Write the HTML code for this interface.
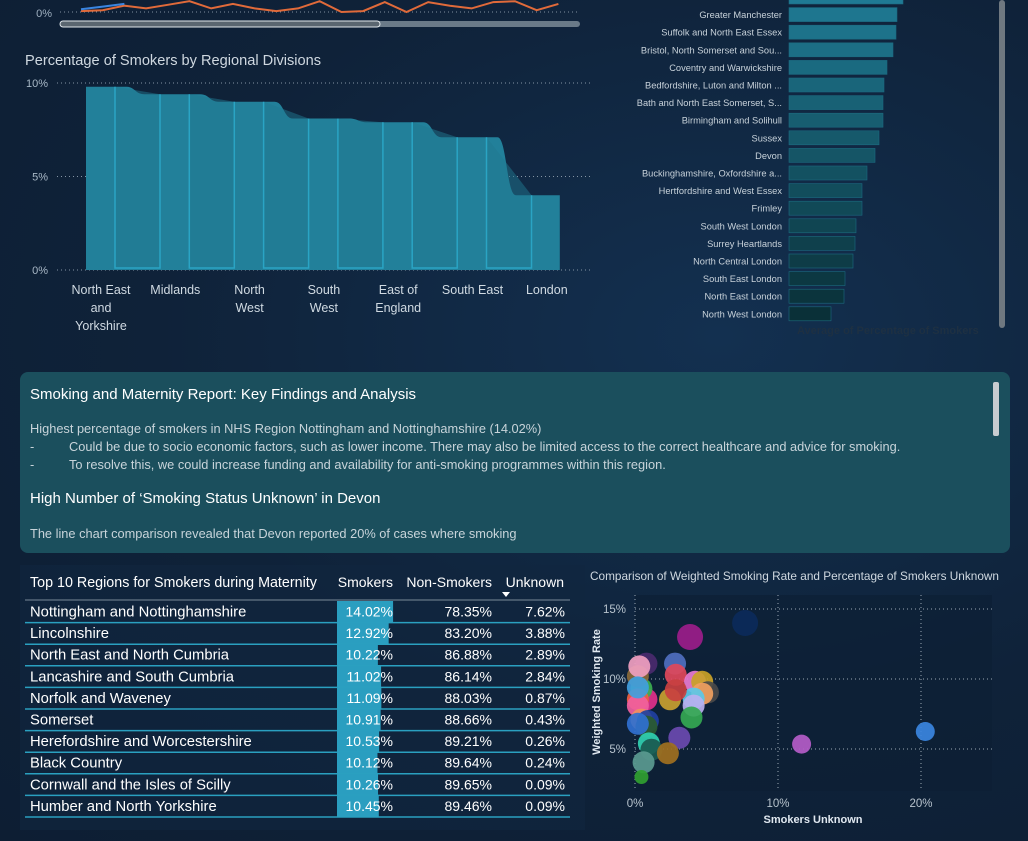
<!DOCTYPE html>
<html><head><meta charset="utf-8"><style>
body{margin:0;width:1028px;height:841px;overflow:hidden;background:radial-gradient(ellipse at 70% 40%,#133050 0%,#0f2239 55%,#0d1e33 100%);font-family:"Liberation Sans",sans-serif;color:#d8e2ea;position:relative}
.abs{position:absolute}
svg text{font-family:"Liberation Sans",sans-serif}
</style></head><body>
<svg class="abs" style="left:0;top:0" width="1028" height="841">
 <g id="topline">
  <text x="52" y="17" font-size="11" fill="#9fb0c0" text-anchor="end">0%</text>
  <line x1="60" y1="12" x2="580" y2="12" stroke="#8090a0" stroke-dasharray="1,3"/>
  <rect x="60" y="21" width="520" height="6" rx="3" fill="#6a7a88"/>
  <rect x="60" y="21" width="320" height="6" rx="3" fill="#5a6670" stroke="#e0e6ea" stroke-width="1"/>
 </g>
 <text x="25" y="65" font-size="14.6" fill="#cfd8e0">Percentage of Smokers by Regional Divisions</text>
 <g id="area"></g>
 <g id="hbar"></g>
 <rect x="999" y="0" width="6" height="328" rx="3" fill="#6f7880"/>
 <text x="797" y="334" font-size="11" font-weight="bold" fill="#1e3042">Average of Percentage of Smokers</text>
 <rect x="20" y="372" width="990" height="181" rx="8" fill="#1b4f5d"/>
 <rect x="993" y="382" width="6" height="54" rx="2" fill="#c8ccd0"/>
 <text x="30" y="399" font-size="15" fill="#ffffff">Smoking and Maternity Report: Key Findings and Analysis</text>
 <text x="30" y="433" font-size="12.8" fill="#c8d4da">Highest percentage of smokers in NHS Region Nottingham and Nottinghamshire (14.02%)</text>
 <text x="30" y="451" font-size="12.8" fill="#c8d4da">-</text>
 <text x="69" y="451" font-size="12.8" fill="#c8d4da">Could be due to socio economic factors, such as lower income. There may also be limited access to the correct healthcare and advice for smoking.</text>
 <text x="30" y="469" font-size="12.8" fill="#c8d4da">-</text>
 <text x="69" y="469" font-size="12.8" fill="#c8d4da">To resolve this, we could increase funding and availability for anti-smoking programmes within this region.</text>
 <text x="30" y="503" font-size="15" fill="#ffffff">High Number of ‘Smoking Status Unknown’ in Devon</text>
 <text x="30" y="538" font-size="12.8" fill="#c8d4da">The line chart comparison revealed that Devon reported 20% of cases where smoking</text>
 <rect x="20" y="565" width="565" height="265" fill="#112740" opacity="0.6"/>
 <g id="table"></g>
 <text x="590" y="580" font-size="11.8" fill="#cfd8e0">Comparison of Weighted Smoking Rate and Percentage of Smokers Unknown</text>
 <rect x="635" y="595" width="357" height="196" fill="#0d1f35" opacity="0.7"/>
 <g id="scatter"></g>
 <text x="600" y="692" font-size="11" font-weight="bold" fill="#e0e8f0" text-anchor="middle" transform="rotate(-90 600 692)">Weighted Smoking Rate</text>
 <text x="813" y="823" font-size="11" font-weight="bold" fill="#e0e8f0" text-anchor="middle">Smokers Unknown</text>
</svg>
<script>
const NS='http://www.w3.org/2000/svg';
function mk(p,t,a){const e=document.createElementNS(NS,t);for(const k in a)e.setAttribute(k,a[k]);p.appendChild(e);return e;}

// ---- top remnant line chart ----
const topBlueValues=[0.3,0.6,0.9];
const topOrangeValues=[0.1,0.2,0.7,0.4,0.8,1.2,0.4,0.9,0.4,0.1,0.4,1.2,0,0.1,1.1,0,1.1,0.7,0.4,1.1,1.2,0.2,0.9];
(function(){
 const g=document.getElementById('topline');
 const tx=i=>81+i*21.7, ty=v=>12-v*9;
 const o=mk(g,'polyline',{points:topOrangeValues.map((v,i)=>tx(i)+','+ty(v)).join(' '),fill:'none',stroke:'#e06a3a','stroke-width':2});
 
 
 const b=mk(g,'polyline',{points:topBlueValues.map((v,i)=>tx(i)+','+ty(v)).join(' '),fill:'none',stroke:'#3a85e0','stroke-width':2});
 
 
})();

// ---- area chart data ----
const areaCategories=[['North East','and','Yorkshire'],['Midlands'],['North','West'],['South','West'],['East of','England'],['South East'],['London']];
const areaValues=[9.8,9.4,9.0,8.1,7.9,7.1,4.0];
const areaTicks=[0,5,10];
const aY=v=>270-v*18.7;
const aX=i=>101+74.3*i;
(function(){
 const g=document.getElementById('area');
 areaTicks.forEach(t=>{
  const l=mk(g,'line',{x1:57,x2:591,y1:aY(t),y2:aY(t),stroke:'#8494a4','stroke-dasharray':'1,3'});
  
  
  const tx=mk(g,'text',{x:48,y:aY(t)+4,'font-size':11,fill:'#a8b8c6','text-anchor':'end'});tx.textContent=t+'%';
  
  
 });
 const n=areaValues.length;
 let d='M'+(aX(0)-15)+','+aY(0)+' L'+(aX(0)-15)+','+aY(areaValues[0]);
 for(let i=0;i<n;i++){
  if(i<n-1){
   const x0=aX(i)+25;d+=' L'+x0+','+aY(areaValues[i]);
   const x1=aX(i+1)-31;const m=(x0+x1)/2;
   d+=' C'+m+','+aY(areaValues[i])+' '+m+','+aY(areaValues[i+1])+' '+x1+','+aY(areaValues[i+1]);
  }
 }
 const last=aX(n-1)+13;
 d+=' L'+last+','+aY(areaValues[n-1])+' L'+last+','+aY(0)+' Z';
 const p=mk(g,'path',{d:d,fill:'#22809a'});
 
 
 for(let i=0;i<n-1;i++){
  const xa=aX(i)+14,xb=aX(i)+59;
  const r=mk(g,'path',{d:'M'+xa+','+aY(areaValues[i])+' L'+xa+','+(aY(0)-2)+' L'+xb+','+(aY(0)-2)+' L'+xb+','+aY(areaValues[i+1]),fill:'#1f7890','fill-opacity':0.5,stroke:'#2aa4c4','stroke-width':1.5});
  
  
 }
 areaCategories.forEach((lines,i)=>{
  lines.forEach((s,j)=>{const t=mk(g,'text',{x:aX(i),y:294+j*18,'font-size':12.5,fill:'#d0dae2','text-anchor':'middle'});t.textContent=s;
   
   });
 });
})();

// ---- horizontal bar chart ----
const barRegions=['','Greater Manchester','Suffolk and North East Essex','Bristol, North Somerset and Sou...','Coventry and Warwickshire','Bedfordshire, Luton and Milton ...','Bath and North East Somerset, S...','Birmingham and Solihull','Sussex','Devon','Buckinghamshire, Oxfordshire a...','Hertfordshire and West Essex','Frimley','South West London','Surrey Heartlands','North Central London','South East London','North East London','North West London'];
const barValues=[11.4,10.8,10.7,10.4,9.8,9.5,9.4,9.4,9.0,8.6,7.8,7.3,7.3,6.7,6.6,6.4,5.6,5.5,4.2];
(function(){
 const g=document.getElementById('hbar');
 const colA=[31,122,148],colB=[10,48,56];
 barRegions.forEach((n,i)=>{
  const y=-3+17.6*i;const f=i/(barRegions.length-1);
  const c='rgb('+colA.map((a,k)=>Math.round(a+(colB[k]-a)*f)).join(',')+')';
  const r=mk(g,'rect',{x:789,y:y-7,width:barValues[i]*10,height:14,fill:c,stroke:'#1c6a80','stroke-width':0.6});
  
  
  if(n){const t=mk(g,'text',{x:782,y:y+3.5,'font-size':9.3,fill:'#c8d2da','text-anchor':'end'});t.textContent=n;
   
   }
 });
})();

// ---- table ----
const tblRegions=['Nottingham and Nottinghamshire','Lincolnshire','North East and North Cumbria','Lancashire and South Cumbria','Norfolk and Waveney','Somerset','Herefordshire and Worcestershire','Black Country','Cornwall and the Isles of Scilly','Humber and North Yorkshire'];
const tblSmokers=[14.02,12.92,10.22,11.02,11.09,10.91,10.53,10.12,10.26,10.45];
const tblNon=[78.35,83.20,86.88,86.14,88.03,88.66,89.21,89.64,89.65,89.46];
const tblUnknown=[7.62,3.88,2.89,2.84,0.87,0.43,0.26,0.24,0.09,0.09];
(function(){
 const g=document.getElementById('table');
 const hd=[['Top 10 Regions for Smokers during Maternity',30,'start',14.3],['Smokers',393,'end',14],['Non-Smokers',492,'end',14],['Unknown',564,'end',14]];
 hd.forEach(h=>{const t=mk(g,'text',{x:h[1],y:587,'font-size':h[3],fill:'#ffffff','text-anchor':h[2]});t.textContent=h[0];
  
  });
 const tri=mk(g,'path',{d:'M502,592 L510,592 L506,597 Z',fill:'#fff'});
 
 
 mk(g,'line',{x1:25,x2:570,y1:600,y2:600,stroke:'#7a8a98'});
 tblRegions.forEach((n,i)=>{
  const y=601+21.6*i;
  const b=mk(g,'rect',{x:337,y:y,width:tblSmokers[i]*4,height:21.6,fill:'#2a9ec0'});
  
  
  const vals=[[n,30,'start',14.8],[tblSmokers[i].toFixed(2)+'%',393,'end',14],[tblNon[i].toFixed(2)+'%',492,'end',14],[tblUnknown[i].toFixed(2)+'%',565,'end',14]];
  vals.forEach(v=>{const t=mk(g,'text',{x:v[1],y:y+15.5,'font-size':v[3],fill:'#ffffff','text-anchor':v[2]});t.textContent=v[0];
   
   });
  const l=mk(g,'line',{x1:25,x2:570,y1:y+21.6,y2:y+21.6,stroke:'#2aa0c0','stroke-width':1.5});
  
  
 });
})();

// ---- scatter ----
const scX=[7.7,3.85,20.3,11.65,2.8,2.85,0.8,4.2,4.7,5.1,4.7,4.1,4.1,3.95,2.45,2.85,0.8,0.45,0.2,0.3,0.2,0.2,0.45,0.9,0.8,0.2,3.1,0.97,1.15,2.3,0.6,0.45,0.2];
const scY=[14.0,13.0,6.25,5.35,11.1,10.3,11.1,9.8,9.8,9.05,8.95,8.6,8.1,7.25,8.55,9.2,8.55,9.3,10.2,10.9,8.55,8.1,7.1,7.0,6.6,6.8,5.8,5.4,4.95,4.7,4.05,3.0,9.4];
const scColors=['#0b2a5a','#9b1d8a','#3a85e0','#b45cc8','#4f6fbf','#e0485a','#4a2a6e','#e87bd0','#c9a227','#4a4a4a','#f0a060','#5cc8e8','#b8b0f0','#34a853','#c8a030','#c84040','#e0308a','#3cb050','#8a6a3a','#f0a0c0','#f06040','#f060a0','#f09060','#2040a0','#2a5a30','#3070d0','#6a4ab0','#30d0b0','#1a5a50','#a07020','#5a9a90','#30a030','#40a0e0'];
const scXTicks=[0,10,20],scYTicks=[5,10,15];
const sX=v=>635+v*14.3, sY=v=>609+(15-v)*14;
(function(){
 const g=document.getElementById('scatter');
 scXTicks.forEach(t=>{mk(g,'line',{x1:sX(t),x2:sX(t),y1:595,y2:791,stroke:'#9aa8b4','stroke-dasharray':'1,3'});
  const tx=mk(g,'text',{x:sX(t),y:807,'font-size':11.5,fill:'#b8c4ce','text-anchor':'middle'});tx.textContent=t+'%';
  
  });
 scYTicks.forEach(t=>{mk(g,'line',{x1:635,x2:992,y1:sY(t),y2:sY(t),stroke:'#9aa8b4','stroke-dasharray':'1,3'});
  const tx=mk(g,'text',{x:626,y:sY(t)+4,'font-size':11.5,fill:'#b8c4ce','text-anchor':'end'});tx.textContent=t+'%';
  
  });
 scX.forEach((v,i)=>{
  const r=i===0||i===1?13:(i===31?7:(i===2||i===3?9.5:11));
  const c=mk(g,'circle',{cx:sX(v),cy:sY(scY[i]),r:r,fill:scColors[i],'fill-opacity':0.92});
  
  
 });
})();
</script>
</body></html>
